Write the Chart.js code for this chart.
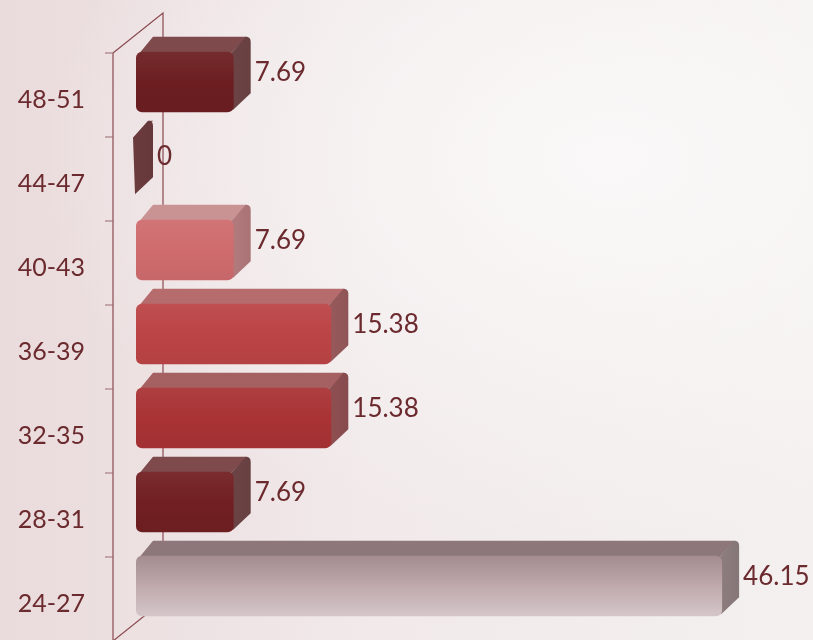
<!DOCTYPE html>
<html><head><meta charset="utf-8">
<script src="https://cdn.jsdelivr.net/npm/chart.js@4/dist/chart.umd.min.js"></script>
<style>
html,body{margin:0;padding:0;}
body{width:813px;height:640px;overflow:hidden;
background: radial-gradient(ellipse 70% 60% at 75% 25%, #faf8f8 0%, rgba(250,248,248,0) 100%), linear-gradient(90deg, #eadbdc 0%, #f1e9ea 45%, #f4f0f0 100%);}
#wrap{position:relative;width:813px;height:640px;}
</style></head>
<body><div id="wrap"><canvas id="c" width="813" height="640"></canvas></div>
<script>
const categories = ['48-51','44-47','40-43','36-39','32-35','28-31','24-27'];
const values = [7.69, 0, 7.69, 15.38, 15.38, 7.69, 46.15];
const frontColors = ['#6c1e21','#6b3a3d','#cf6b6d','#bb4446','#a93335','#711f22','#c4aeb1'];
const topColors   = ['#7e4a4c','#7a5557','#c99394','#b66b6d','#a56062','#7e4a4c','#8e777a'];
const sideColors  = ['#6c4345','#6b3b3d','#b27a7c','#97595b','#8e4f51','#6c4345','#8c7c7e'];
const tickLabels = categories;

const DX = 17, DY = -15;
const txt = '#6b2a2e';

function lighten(hex, amt){
  const n=parseInt(hex.slice(1),16);
  let r=(n>>16)&255,g=(n>>8)&255,b=n&255;
  r=Math.round(r+(255-r)*amt);g=Math.round(g+(255-g)*amt);b=Math.round(b+(255-b)*amt);
  return `rgb(${r},${g},${b})`;
}
function darken(hex, amt){
  const n=parseInt(hex.slice(1),16);
  let r=(n>>16)&255,g=(n>>8)&255,b=n&255;
  return `rgb(${Math.round(r*(1-amt))},${Math.round(g*(1-amt))},${Math.round(b*(1-amt))})`;
}

const threeD = {
  id:'threeD',
  beforeDatasetsDraw(chart){
    const ctx = chart.ctx, ca = chart.chartArea, ys = chart.scales.y;
    const band = ys.getPixelForValue(1) - ys.getPixelForValue(0);
    const topB = ys.getPixelForValue(0) - band/2;
    const botB = ys.getPixelForValue(categories.length-1) + band/2;
    const fx = ca.left - 23, bx = ca.left + 27;
    ctx.save();
    ctx.strokeStyle = '#8a4a50'; ctx.lineWidth = 1.2;
    ctx.beginPath();
    ctx.moveTo(fx, topB+13); ctx.lineTo(fx, 660);
    ctx.moveTo(fx, topB+13); ctx.lineTo(bx, topB-27); ctx.lineTo(bx, botB-27);
    ctx.lineTo(fx, botB+13);
    ctx.stroke();
    ctx.strokeStyle = '#9a6a70';
    ctx.beginPath();
    for(let i=0;i<categories.length;i++){
      const yb = ys.getPixelForValue(i) - band/2 + 13;
      ctx.moveTo(fx-8, yb); ctx.lineTo(fx, yb);
    }
    ctx.stroke();
    const meta = chart.getDatasetMeta(0);
    meta.data.forEach((el,i)=>{
      const h = el.height, x = el.x, b = el.base, y0 = el.y - h/2, y1 = el.y + h/2;
      ctx.fillStyle = topColors[i];
      ctx.beginPath();
      ctx.moveTo(b+3, y0+2); ctx.lineTo(x-3, y0+2); ctx.lineTo(x+DX-4, y0+DY); ctx.lineTo(b+DX, y0+DY);
      ctx.closePath(); ctx.fill();
      const sg = ctx.createLinearGradient(x, 0, x+DX, 0);
      sg.addColorStop(0, sideColors[i]); sg.addColorStop(1, darken(sideColors[i],0.05));
      ctx.fillStyle = sg;
      ctx.beginPath();
      ctx.moveTo(x-3, y0+2); ctx.lineTo(x+DX-5, y0+DY);
      ctx.quadraticCurveTo(x+DX, y0+DY, x+DX, y0+DY+5);
      ctx.lineTo(x+DX, y1+DY-4); ctx.lineTo(x-1, y1-2);
      ctx.closePath(); ctx.fill();
    });
    ctx.restore();
  },
  afterDatasetsDraw(chart){
    const ctx = chart.ctx;
    const meta = chart.getDatasetMeta(0);
    ctx.save();
    ctx.font = '26px Lato, "Open Sans", sans-serif';
    ctx.fillStyle = txt; ctx.textBaseline = 'middle'; ctx.textAlign = 'left';
    meta.data.forEach((el,i)=>{
      ctx.fillText(String(values[i]), el.x + DX + 4, el.y - 9);
    });
    ctx.restore();
  }
};

new Chart(document.getElementById('c'), {
  type:'bar',
  data:{labels: tickLabels, datasets:[{
    data: values,
    backgroundColor(c){
      const i = c.dataIndex, chart = c.chart;
      if(!chart.chartArea || !chart.scales.y) return frontColors[i];
      const ys = chart.scales.y;
      const yc = ys.getPixelForValue(i), h = 30;
      const g = chart.ctx.createLinearGradient(0, yc-h, 0, yc+h);
      if(i===6){
        g.addColorStop(0, '#a48c90'); g.addColorStop(0.5, '#bfa9ac'); g.addColorStop(1, '#d4c6c8');
      } else {
        g.addColorStop(0, lighten(frontColors[i],0.06)); g.addColorStop(0.5, frontColors[i]); g.addColorStop(1, darken(frontColors[i],0.04));
      }
      return g;
    },
    borderRadius: 6, borderSkipped: false, borderWidth: 0,
    barPercentage: 0.72, categoryPercentage: 1.0
  }]},
  options:{
    indexAxis:'y', responsive:false, animation:false,
    layout:{padding:{top:40, bottom:12, right:42, left:0}},
    plugins:{legend:{display:false}, tooltip:{enabled:false}},
    scales:{
      x:{display:false, min:0, max:50},
      y:{
        grid:{display:false, drawTicks:false}, border:{display:false},
        afterFit(s){ s.width = 136; s.paddingTop = 0; s.paddingBottom = 0; },
        ticks:{color:txt, font:{family:'Lato, "Open Sans", sans-serif', size:25}, padding:51, labelOffset:18}
      }
    }
  },
  plugins:[threeD]
});
</script></body></html>
